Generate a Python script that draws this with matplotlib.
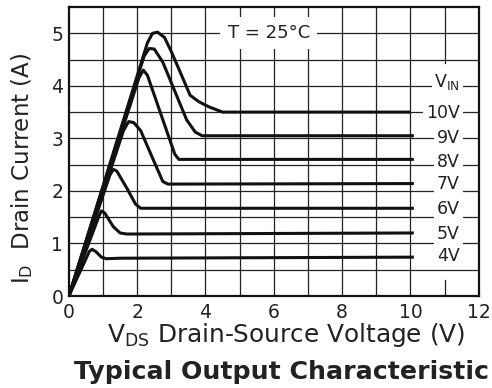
import matplotlib
matplotlib.use("Agg")
import matplotlib.pyplot as plt

plt.rcParams['font.family'] = ['DejaVu Sans']
plt.rcParams['mathtext.fontset'] = 'dejavusans'

# gate voltages and curves (V_DS in V, I_D in A)
vin_labels = ['10V', '9V', '8V', '7V', '6V', '5V', '4V']
vin_label_y = [3.48, 3.0, 2.55, 2.14, 1.66, 1.18, 0.77]

vds_10 = [0, 2.3, 2.45, 2.6, 2.8, 3.0, 3.3, 3.55, 3.8, 4.1, 4.5, 6.0, 10.0]
id_10 = [0, 4.82, 5.0, 5.02, 4.92, 4.65, 4.2, 3.82, 3.7, 3.6, 3.5, 3.5, 3.5]

vds_9 = [0, 2.2, 2.35, 2.5, 2.75, 3.1, 3.45, 3.7, 3.9, 10.1]
id_9 = [0, 4.56, 4.71, 4.7, 4.45, 3.9, 3.35, 3.12, 3.05, 3.05]

vds_8 = [0, 2.05, 2.18, 2.3, 2.7, 3.1, 3.22, 10.1]
id_8 = [0, 4.15, 4.3, 4.2, 3.45, 2.7, 2.6, 2.6]

vds_7 = [0, 1.6, 1.75, 1.9, 2.1, 2.5, 2.75, 2.9, 10.1]
id_7 = [0, 3.15, 3.32, 3.3, 3.15, 2.55, 2.18, 2.13, 2.14]

vds_6 = [0, 1.2, 1.3, 1.4, 1.7, 1.95, 2.1, 10.1]
id_6 = [0, 2.3, 2.41, 2.38, 2.05, 1.75, 1.67, 1.67]

vds_5 = [0, 0.88, 0.95, 1.05, 1.3, 1.5, 1.7, 10.1]
id_5 = [0, 1.52, 1.62, 1.58, 1.32, 1.2, 1.18, 1.2]

vds_4 = [0, 0.6, 0.68, 0.8, 0.95, 1.1, 1.5, 10.1]
id_4 = [0, 0.85, 0.89, 0.84, 0.74, 0.71, 0.72, 0.74]

curves = [(vds_10, id_10), (vds_9, id_9), (vds_8, id_8), (vds_7, id_7),
          (vds_6, id_6), (vds_5, id_5), (vds_4, id_4)]

fig = plt.figure(figsize=(4.92, 3.88), dpi=100)
ax = fig.add_axes([0.140, 0.237, 0.833, 0.745])
ax.set_xlim(0, 12)
ax.set_ylim(0, 5.5)

# grid drawn by hand so the V_IN column can stay clear
gc = '#222222'
for gx in range(1, 12):
    if gx == 11:
        ax.plot([gx, gx], [0, 0.3], color=gc, lw=0.9, zorder=1)
        ax.plot([gx, gx], [4.43, 5.5], color=gc, lw=0.9, zorder=1)
    else:
        ax.plot([gx, gx], [0, 5.5], color=gc, lw=0.9, zorder=1)
for k in range(1, 11):
    ax.plot([0, 12], [k * 0.5, k * 0.5], color=gc, lw=0.9, zorder=1)

for xs, ys in curves:
    ax.plot(xs, ys, color='#111111', lw=2.2, solid_joinstyle='round',
            solid_capstyle='butt', zorder=3)

ax.set_xticks(range(0, 13, 2))
ax.set_yticks(range(0, 6))
ax.tick_params(length=0, labelsize=13.5, colors='#222222')
ax.tick_params(axis='x', pad=5)
ax.tick_params(axis='y', pad=4)
for s in ax.spines.values():
    s.set_linewidth(1.6)
    s.set_color('#111111')

ax.text(5.85, 5.0, 'T = 25°C', fontsize=13, ha='center', va='center',
        color='#222222', zorder=5,
        bbox=dict(boxstyle='square,pad=0.4', fc='white', ec='none'))

ax.text(11.45, 4.07, 'V$_{\\mathrm{IN}}$', fontsize=12.5, ha='right', va='center',
        color='#222222', zorder=5,
        bbox=dict(boxstyle='square,pad=0.15', fc='white', ec='none'))
for lab, ly in zip(vin_labels, vin_label_y):
    ax.text(11.45, ly, lab, fontsize=12.5, ha='right', va='center',
            color='#222222', zorder=5,
            bbox=dict(boxstyle='square,pad=0.15', fc='white', ec='none'))

fig.text(22 / 492, 1 - 168 / 388, 'I$_{\\mathrm{D}}$  Drain Current (A)', rotation=90,
         fontsize=16.5, ha='center', va='center', color='#222222')
fig.text(286 / 492, 1 - 335 / 388, 'V$_{\\mathrm{DS}}$ Drain-Source Voltage (V)',
         fontsize=17.8, ha='center', va='center', color='#222222')
fig.text(281 / 492, 1 - 372 / 388, 'Typical Output Characteristic',
         fontsize=18.2, fontweight='bold', ha='center', va='center', color='#222222')

fig.savefig('out.png', dpi=100)
